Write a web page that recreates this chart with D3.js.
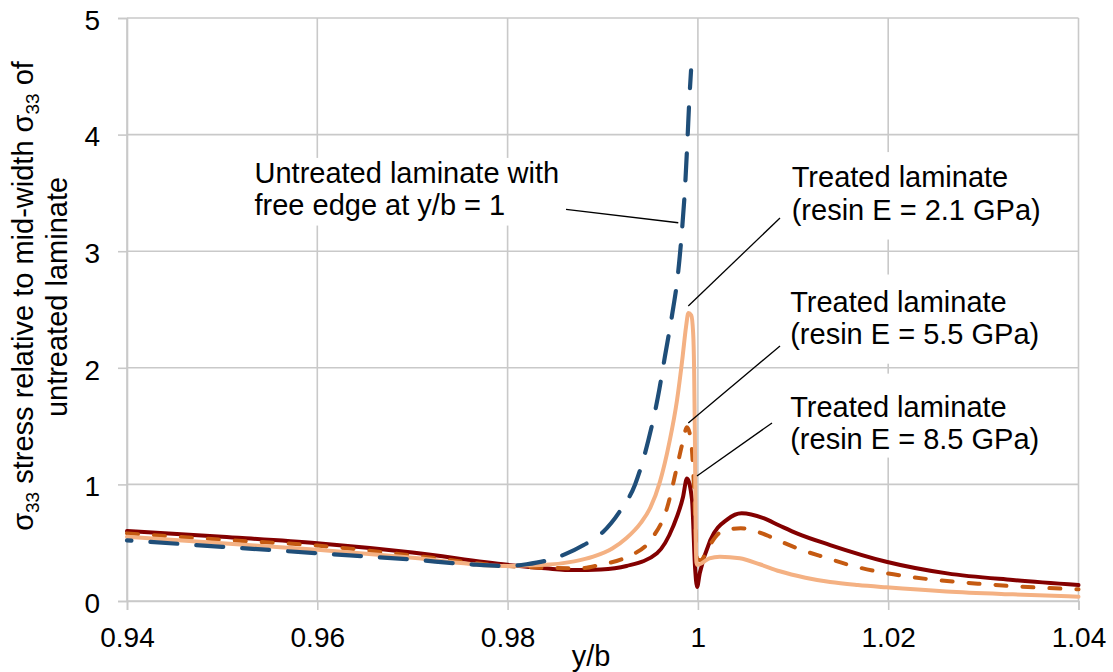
<!DOCTYPE html>
<html><head><meta charset="utf-8">
<script src="https://cdn.jsdelivr.net/npm/d3@7"></script>
<style>
body{margin:0;background:#fff}
svg{display:block}
text{font-family:"Liberation Sans",Arial,Helvetica,sans-serif;fill:#000}
</style></head>
<body><svg id="chart" width="1113" height="672"></svg>
<script>
// ---------- data ----------
const xTicks = [0.94, 0.96, 0.98, 1, 1.02, 1.04];
const xTickLabels = ["0.94", "0.96", "0.98", "1", "1.02", "1.04"];
const yTicks = [0, 1, 2, 3, 4, 5];
const yTickLabels = ["0", "1", "2", "3", "4", "5"];

// Untreated laminate (free edge at y/b = 1)
const untreatedX = [0.94, 0.95, 0.96, 0.97, 0.976, 0.98, 0.982, 0.984, 0.986, 0.988, 0.99, 0.9918, 0.9934, 0.9948, 0.9958, 0.99654, 0.99728, 0.9979, 0.9983, 0.99865, 0.9989, 0.9991, 0.99928];
const untreatedY = [0.52, 0.465, 0.41, 0.355, 0.315, 0.30, 0.315, 0.345, 0.40, 0.48, 0.59, 0.77, 1.0, 1.38, 1.75, 2.10, 2.45, 2.80, 3.15, 3.55, 3.95, 4.30, 4.55];

// Treated laminate, resin E = 2.1 GPa
const resin21X = [0.94, 0.95, 0.96, 0.97, 0.98, 0.984, 0.987, 0.989, 0.991, 0.9925, 0.994, 0.995, 0.996, 0.997, 0.9978, 0.9984, 0.99875, 0.999, 0.9993, 0.9995, 0.9996, 0.99968, 0.99978, 0.99985, 0.99995, 1.0012, 1.0023, 1.0044, 1.0065, 1.0086, 1.0113, 1.0139, 1.0168, 1.0198, 1.0261, 1.0331, 1.04];
const resin21Y = [0.55, 0.495, 0.44, 0.37, 0.30, 0.31, 0.34, 0.38, 0.45, 0.54, 0.67, 0.80, 1.02, 1.36, 1.72, 2.10, 2.35, 2.47, 2.45, 2.30, 2.0, 1.45, 0.50, 0.33, 0.31, 0.365, 0.38, 0.366, 0.315, 0.255, 0.20, 0.163, 0.137, 0.117, 0.082, 0.057, 0.037];

// Treated laminate, resin E = 5.5 GPa
const resin55X = [0.94, 0.95, 0.96, 0.97, 0.98, 0.984, 0.9876, 0.9897, 0.9926, 0.995, 0.9968, 0.9978, 0.9984, 0.99885, 0.99927, 0.9996, 0.9998, 0.9999, 1.0003, 1.0011, 1.0024, 1.0045, 1.006, 1.0075, 1.009, 1.0105, 1.0135, 1.0163, 1.0194, 1.0225, 1.03, 1.04];
const resin55Y = [0.58, 0.525, 0.475, 0.39, 0.30, 0.285, 0.28, 0.31, 0.38, 0.52, 0.81, 1.15, 1.36, 1.49, 1.38, 0.95, 0.5, 0.36, 0.35, 0.46, 0.59, 0.625, 0.60, 0.555, 0.50, 0.45, 0.37, 0.30, 0.245, 0.205, 0.145, 0.10];

// Treated laminate, resin E = 8.5 GPa
const resin85X = [0.94, 0.95, 0.96, 0.97, 0.98, 0.984, 0.987, 0.9898, 0.9925, 0.9957, 0.9974, 0.99843, 0.99885, 0.99938, 0.9997, 0.99991, 1.0002, 1.0013, 1.0031, 1.0046, 1.0069, 1.0085, 1.0104, 1.0139, 1.0198, 1.0262, 1.0331, 1.04];
const resin85Y = [0.60, 0.55, 0.495, 0.415, 0.31, 0.28, 0.265, 0.27, 0.30, 0.41, 0.64, 0.89, 1.05, 0.87, 0.29, 0.12, 0.24, 0.52, 0.70, 0.752, 0.71, 0.65, 0.58, 0.48, 0.337, 0.237, 0.18, 0.137];

// annotation text lines
const untreatedLabel = ["Untreated laminate with", "free edge at y/b = 1"];
const resin21Label = ["Treated laminate", "(resin E = 2.1 GPa)"];
const resin55Label = ["Treated laminate", "(resin E = 5.5 GPa)"];
const resin85Label = ["Treated laminate", "(resin E = 8.5 GPa)"];

// ---------- layout ----------
const svg = d3.select("#chart");
const x = d3.scaleLinear().domain([0.94, 1.04]).range([127, 1078.5]);
const y = d3.scaleLinear().domain([0, 5]).range([601, 18]);
const gridColor = "#c9c9c9";
const FS = 29;

// gridlines
svg.append("g").selectAll("line").data(xTicks).join("line")
  .attr("x1", d => x(d)).attr("x2", d => x(d))
  .attr("y1", y(0)).attr("y2", y(5))
  .attr("stroke", gridColor).attr("stroke-width", 1.6);
svg.append("g").selectAll("line").data(yTicks).join("line")
  .attr("x1", x(0.94)).attr("x2", x(1.04))
  .attr("y1", d => y(d)).attr("y2", d => y(d))
  .attr("stroke", gridColor).attr("stroke-width", 1.6);

// axes
const xAxis = svg.append("g").attr("transform", `translate(0,${y(0)})`)
  .call(d3.axisBottom(x).tickValues(xTicks).tickSize(9).tickPadding(17)
    .tickFormat((d, i) => xTickLabels[i]));
const yAxis = svg.append("g").attr("transform", `translate(${x(0.94)},0)`)
  .call(d3.axisLeft(y).tickValues(yTicks).tickSize(9).tickPadding(18)
    .tickFormat((d, i) => yTickLabels[i]));
[xAxis, yAxis].forEach(g => {
  g.select(".domain").attr("stroke", gridColor).attr("stroke-width", 1.6);
  g.selectAll(".tick line").attr("stroke", gridColor).attr("stroke-width", 1.6);
  g.selectAll(".tick text").attr("font-size", 28).attr("fill", "#000")
    .style("font-family", '"Liberation Sans",Arial,sans-serif');
});
yAxis.selectAll(".tick text").attr("dy", "0.4em");

// axis titles
svg.append("text").attr("x", 591).attr("y", 666).attr("text-anchor", "middle")
  .attr("font-size", FS).text("y/b");

const yl1 = svg.append("text").attr("transform", "translate(33,296) rotate(-90)")
  .attr("text-anchor", "middle").attr("font-size", FS);
yl1.append("tspan").text("σ");
yl1.append("tspan").attr("font-size", 19).attr("dy", 6).text("33");
yl1.append("tspan").attr("dy", -6).text(" stress relative to mid-width σ");
yl1.append("tspan").attr("font-size", 19).attr("dy", 6).text("33");
yl1.append("tspan").attr("dy", -6).text(" of");
svg.append("text").attr("transform", "translate(67,297) rotate(-90)")
  .attr("text-anchor", "middle").attr("font-size", FS).text("untreated laminate");

// white label boxes (cover gridlines like chart text boxes)
const boxes = [
  {x0: 0.9530, x1: 0.9880, y0: 3.80, y1: 3.22},
  {x0: 1.0092, x1: 1.0385, y0: 3.85, y1: 3.10},
  {x0: 1.0092, x1: 1.0385, y0: 2.80, y1: 2.035},
  {x0: 1.0092, x1: 1.0385, y0: 1.95, y1: 1.23}
];
svg.append("g").selectAll("rect").data(boxes).join("rect")
  .attr("x", d => x(d.x0)).attr("width", d => x(d.x1) - x(d.x0))
  .attr("y", d => y(d.y0)).attr("height", d => y(d.y1) - y(d.y0))
  .attr("fill", "#fff");

// series
const line = d3.line().x(d => x(d[0])).y(d => y(d[1])).curve(d3.curveMonotoneX);
const zip = (a, b) => a.map((v, i) => [v, b[i]]);
const series = [
  {xs: resin85X, ys: resin85Y, color: "#830000", w: 4, dash: null},
  {xs: resin55X, ys: resin55Y, color: "#c55a11", w: 4, dash: "11 16"},
  {xs: resin21X, ys: resin21Y, color: "#f4b183", w: 4, dash: null},
  {xs: untreatedX, ys: untreatedY, color: "#1f4e79", w: 4.2, dash: "27 19", endOn: 18}
];
svg.append("g").selectAll("path").data(series).join("path")
  .attr("d", d => line(zip(d.xs, d.ys)))
  .attr("fill", "none").attr("stroke", d => d.color)
  .attr("stroke-width", d => d.w)
  .attr("stroke-dasharray", d => d.dash)
  .attr("stroke-linecap", "round").attr("stroke-linejoin", "round")
  .each(function(d) {
    if (d.dash && d.endOn != null) {
      const period = d.dash.split(" ").map(Number).reduce((a, b) => a + b, 0);
      const L = this.getTotalLength();
      d3.select(this).attr("stroke-dashoffset", ((d.endOn - L) % period + period) % period);
    }
  });

// leader lines (data coordinates)
const leaders = [
  [0.98614, 3.359, 0.99794, 3.244],
  [1.00863, 3.285, 0.99899, 2.530],
  [1.00863, 2.187, 0.99899, 1.527],
  [1.00779, 1.527, 0.99990, 1.072]
];
svg.append("g").selectAll("line").data(leaders).join("line")
  .attr("x1", d => x(d[0])).attr("y1", d => y(d[1]))
  .attr("x2", d => x(d[2])).attr("y2", d => y(d[3]))
  .attr("stroke", "#000").attr("stroke-width", 1.3);

// annotation text
const notes = [
  {lines: untreatedLabel, x: 0.95340, y: 3.585},
  {lines: resin21Label, x: 1.00986, y: 3.55},
  {lines: resin55Label, x: 1.00970, y: 2.481},
  {lines: resin85Label, x: 1.00970, y: 1.581}
];
notes.forEach(n => {
  const t = svg.append("text").attr("font-size", FS);
  n.lines.forEach((s, i) => {
    t.append("tspan").attr("x", x(n.x)).attr("y", y(n.y) + i * 32.5).text(s);
  });
});
</script></body></html>
